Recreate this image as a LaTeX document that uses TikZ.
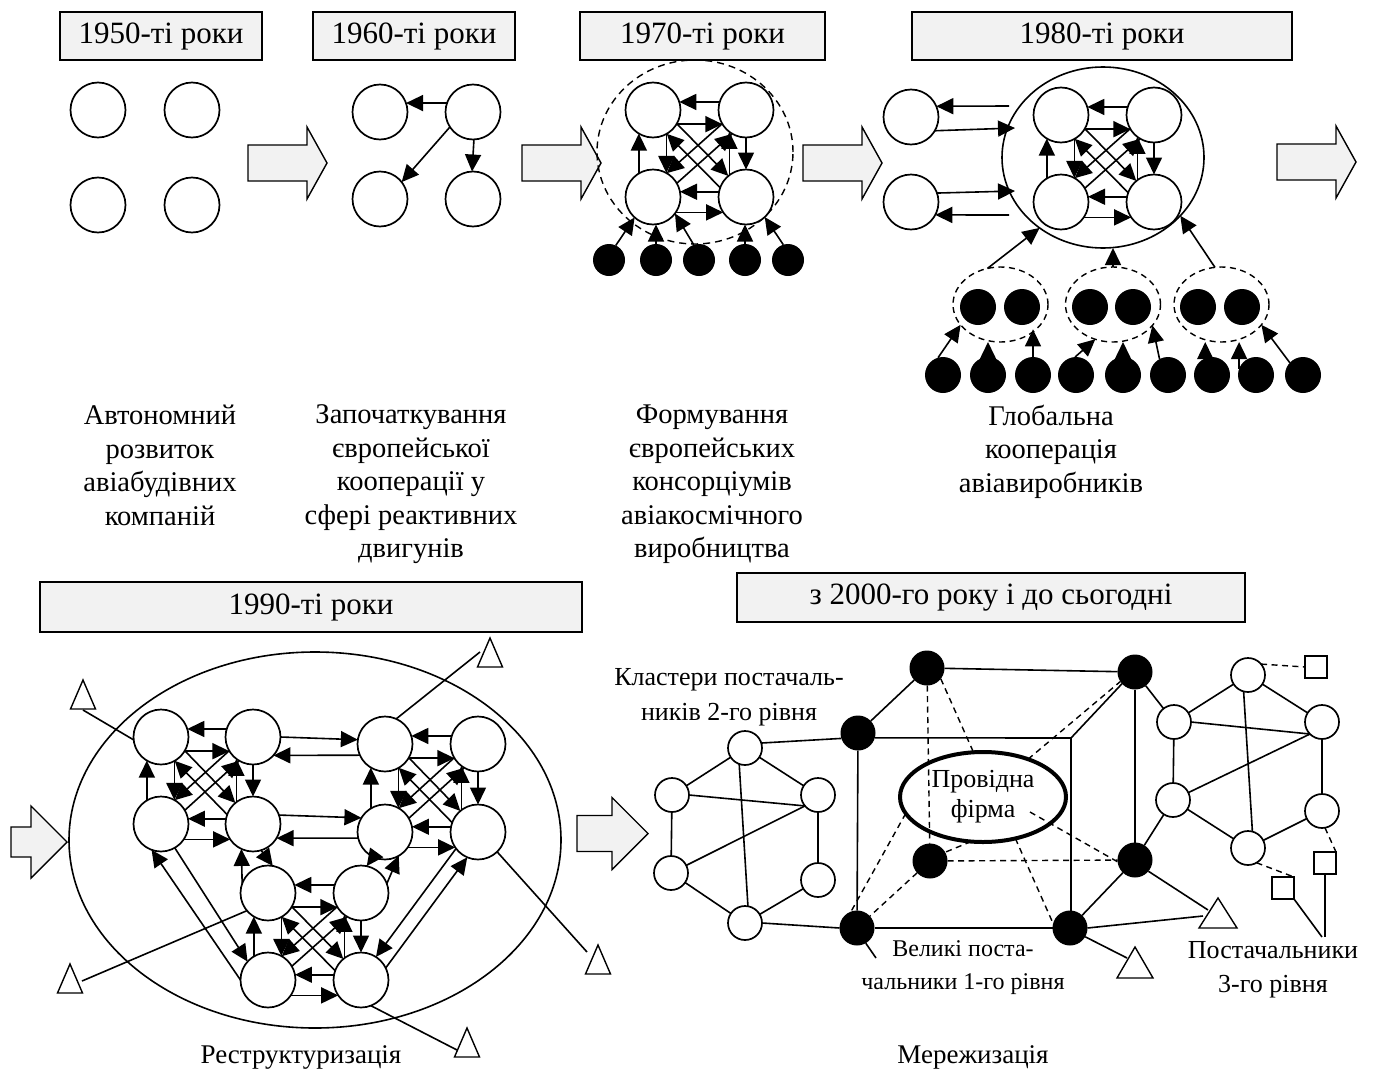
\documentclass[tikz,border=0pt]{standalone}
\usepackage{fontspec}
\setmainfont{Liberation Serif}
\usetikzlibrary{arrows.meta,calc,shapes.geometric}
\definecolor{boxgray}{HTML}{F2F2F2}
% full two-way mesh between four round nodes: top-left, top-right, bottom-left, bottom-right
\newcommand\meshfour[4]{%
  \draw[arr] (#2.163) -- (#1.17);
  \draw[arr] (#1.-31) -- (#2.211);
  \draw[arr] (#1.-61) -- (#3.61);
  \draw[arr] (#3.121) -- (#1.239);
  \draw[arr] (#2.-90) -- (#4.90);
  \draw[arr] (#4.127) -- (#2.233);
  \draw[arr] (#4.169) -- (#3.11);
  \draw[arr] (#3.-34) -- (#4.214);
  \draw[arr] (#2.210) -- (#3.60);
  \draw[arr] (#3.30) -- (#2.240);
  \draw[arr] (#1.-30) -- (#4.130);
  \draw[arr] (#4.160) -- (#1.-60);
}
\begin{document}
\begin{tikzpicture}[x=1pt,y=-1pt,
  every node/.style={inner sep=0pt,outer sep=0pt},
  wn/.style={circle,draw,line width=1.7pt,fill=white,minimum size=55pt},
  swn/.style={circle,draw,line width=1.7pt,fill=white,minimum size=34pt},
  bn/.style={circle,fill=black,minimum size=#1},
  arr/.style={line width=1.6pt,-{Triangle[length=17pt,width=16pt]}},
  ln/.style={line width=1.6pt},
  dsh/.style={line width=1.4pt,dash pattern=on 6pt off 4.5pt},
  hdr/.style={draw,line width=1.4pt,fill=boxgray,font=\fontsize{31}{35}\selectfont},
  blk/.style={draw,line width=1.4pt,fill=boxgray,line join=miter},
  desc/.style={align=center,anchor=north,font=\fontsize{28.5}{33.5}\selectfont},
  sq/.style={draw,line width=1.4pt,minimum size=22pt},
  tri/.style={draw,line width=1.4pt,fill=white,line join=miter}
]
\useasboundingbox (0,0) rectangle (1379,1079);

% ---------- headers ----------
\node[hdr,minimum width=202pt,minimum height=48pt] (h50) at (161,36) {1950-ті роки};
\node[hdr,minimum width=202pt,minimum height=48pt] (h60) at (414,36) {1960-ті роки};
\node[hdr,minimum width=245pt,minimum height=48pt] (h70) at (702.5,36) {1970-ті роки};
\node[hdr,minimum width=380pt,minimum height=48pt] (h80) at (1102,36) {1980-ті роки};
\node[hdr,minimum width=542pt,minimum height=50pt] (h90) at (311,607) {1990-ті роки};
\node[hdr,minimum width=508pt,minimum height=49pt] (h00) at (991,597.5) {з 2000-го року і до сьогодні};

% ---------- block arrows ----------
\draw[blk] (248,145) -- ++(59,0) -- ++(0,-18) -- ++(20,36) -- ++(-20,36) -- ++(0,-18) -- ++(-59,0) -- cycle;
\draw[blk] (522,145) -- ++(59,0) -- ++(0,-18) -- ++(20,36) -- ++(-20,36) -- ++(0,-18) -- ++(-59,0) -- cycle;
\draw[blk] (803,145) -- ++(59,0) -- ++(0,-18) -- ++(20,36) -- ++(-20,36) -- ++(0,-18) -- ++(-59,0) -- cycle;
\draw[blk] (1277,144) -- ++(59,0) -- ++(0,-18) -- ++(20,36) -- ++(-20,36) -- ++(0,-18) -- ++(-59,0) -- cycle;
\draw[blk] (11,827) -- ++(20,0) -- ++(0,-21) -- ++(36,36) -- ++(-36,36) -- ++(0,-21) -- ++(-20,0) -- cycle;
\draw[blk] (577,815.5) -- ++(35,0) -- ++(0,-18) -- ++(36,36) -- ++(-36,36) -- ++(0,-18) -- ++(-35,0) -- cycle;

% ---------- 1950s ----------
\node[wn] (w1) at (98,110) {};
\node[wn] (w2) at (192,110) {};
\node[wn] (w3) at (98,205) {};
\node[wn] (w4) at (192,205) {};

% ---------- 1960s ----------
\node[wn] (s1) at (380,112) {};
\node[wn] (s2) at (473,112) {};
\node[wn] (s3) at (380,199) {};
\node[wn] (s4) at (473,199) {};
\draw[arr] (s2.161) -- (s1.19);
\draw[arr] (s2.213) -- (s3.38);
\draw[arr] (s2.-88) -- (s4.92);

% ---------- 1970s ----------
\node[draw,ellipse,line width=1.4pt,dash pattern=on 7pt off 5pt,minimum width=196pt,minimum height=184pt] (ring70) at (695,152) {};
\node[wn] (q1) at (653,110) {};
\node[wn] (q2) at (746,110) {};
\node[wn] (q3) at (653,197) {};
\node[wn] (q4) at (746,197) {};
\meshfour{q1}{q2}{q3}{q4}
\foreach \i/\x in {1/609,2/656,3/699,4/745,5/788}
  \node[bn=32pt] (c\i) at (\x,260) {};
\draw[arr] (c1.65) -- (q3.228);
\draw[arr] (c2.north) -- (c2.north |- q3.south);
\draw[arr] (c3.109) -- (q3.-37);
\draw[arr] (c4.north) -- (c4.north |- q4.south);
\draw[arr] (c5.107) -- (q4.-47);

% ---------- 1980s ----------
\node[draw,ellipse,line width=1.6pt,minimum width=202pt,minimum height=181pt] (big80) at (1103,157.5) {};
\node[wn] (o1) at (911,117) {};
\node[wn] (o2) at (911,202) {};
\node[wn] (p1) at (1061,115) {};
\node[wn] (p2) at (1154,115) {};
\node[wn] (p3) at (1061,202) {};
\node[wn] (p4) at (1154,202) {};
\meshfour{p1}{p2}{p3}{p4}
\draw[arr] ($(big80.west)+(7,-51.5)$) -- (o1.23);
\draw[arr] (o1.-30) -- ($(big80.west)+(13,-29.5)$);
\draw[arr] (o2.19) -- ($(big80.west)+(13,33.5)$);
\draw[arr] ($(big80.west)+(7,57.5)$) -- (o2.-28);

\node[draw,ellipse,line width=1.4pt,dash pattern=on 6pt off 4.5pt,minimum width=95pt,minimum height=75pt] (e1) at (1000.5,304.5) {};
\node[draw,ellipse,line width=1.4pt,dash pattern=on 6pt off 4.5pt,minimum width=95pt,minimum height=75pt] (e2) at (1113,304.5) {};
\node[draw,ellipse,line width=1.4pt,dash pattern=on 6pt off 4.5pt,minimum width=95pt,minimum height=75pt] (e3) at (1221.5,304.5) {};
\foreach \i/\x in {1/978,2/1022,3/1090,4/1133,5/1198,6/1242}
  \node[bn=36pt] (m\i) at (\x,307) {};
\foreach \i/\x in {1/943,2/988,3/1033,4/1076,5/1123,6/1168,7/1212,8/1256,9/1303}
  \node[bn=36pt] (b\i) at (\x,375) {};
\draw[arr] (e1.110) -- (big80.228);
\draw[arr] (e2.north) -- (e2.north |- big80.south);
\draw[arr] (e3.100) -- (big80.-37);
\draw[arr] (b1.106) -- (e1.207);
\draw[arr] (b2.north) -- (b2.north |- e1.south);
\draw[arr] (b3.north) -- (b3.north |- e1.-35);
\draw[arr] (b4.93) -- (e2.243);
\draw[arr] (b5.north) -- (b5.north |- e2.south);
\draw[arr] (b6.118) -- (e2.-28);
\draw[arr] (b7.112) -- (b7.112 |- e3.south);
\draw[arr] (b8.160) -- (b8.160 |- e3.south);
\draw[arr] (b9.137) -- (e3.-27);

% ---------- captions, top row ----------
\node[desc] (d50) at (160,405) {Автономний\\розвиток\\авіабудівних\\компаній};
\node[desc] (d60) at (411,405) {Започаткування\\європейської\\кооперації у\\сфері реактивних\\двигунів};
\node[desc] (d70) at (712,405) {Формування\\європейських\\консорціумів\\авіакосмічного\\виробництва};
\node[desc] (d80) at (1051,405) {Глобальна\\кооперація\\авіавиробників};

% ---------- 1990s ----------
\node[draw,ellipse,line width=1.6pt,minimum width=492pt,minimum height=376pt] (ring90) at (315,840) {};
\node[wn] (n1) at (161,737) {};
\node[wn] (n2) at (253,737) {};
\node[wn] (n3) at (161,824) {};
\node[wn] (n4) at (253,824) {};
\node[wn] (n5) at (385,744) {};
\node[wn] (n6) at (478,744) {};
\node[wn] (n7) at (385,832) {};
\node[wn] (n8) at (478,832) {};
\node[wn] (n9) at (268,893) {};
\node[wn] (n10) at (361,893) {};
\node[wn] (n11) at (268,980) {};
\node[wn] (n12) at (361,980) {};
\meshfour{n1}{n2}{n3}{n4}
\meshfour{n5}{n6}{n7}{n8}
\meshfour{n9}{n10}{n11}{n12}
\draw[arr] (n2.0) -- (n5.171);
\draw[arr] (n5.204) -- (n2.-42);
\draw[arr] (n4.19) -- (n7.149);
\draw[arr] (n7.193) -- (n4.-31);
\draw[arr] (n4.-73) -- (n9.80);
\draw[arr] (n9.160) -- (n4.-115);
\draw[arr] (n7.-115) -- (n10.78);
\draw[arr] (n10.20) -- (n7.-60);
\draw[arr] (n3.-60) -- (n11.138);
\draw[arr] (n11.180) -- (n3.-110);
\draw[arr] (n8.217) -- (n12.57);
\draw[arr] (n12.26) -- (n8.247);

% outside partners (triangles)
\draw[tri] (83,680) -- ++(12.5,29) -- ++(-25,0) -- cycle;
\draw[tri] (490,638) -- ++(12.5,29) -- ++(-25,0) -- cycle;
\draw[tri] (467,1028) -- ++(12.5,29) -- ++(-25,0) -- cycle;
\draw[tri] (598,945) -- ++(12.5,29) -- ++(-25,0) -- cycle;
\draw[tri] (70,964) -- ++(12.5,29) -- ++(-25,0) -- cycle;
\coordinate (T1a) at (83,710);
\coordinate (T2a) at (480,652);
\coordinate (T3a) at (457,1050);
\coordinate (T4a) at (587,952);
\coordinate (T5a) at (82,981);
\draw[ln] (T1a) -- (n1.186);
\draw[ln] (n5.66) -- (T2a);
\draw[ln] (n12.-69) -- (T3a);
\draw[ln] (n8.-46) -- (T4a);
\draw[ln] (T5a) -- (n9.220);

\node[anchor=north,font=\fontsize{27}{33}\selectfont] (cap90) at (301,1046) {Реструктуризація};

% ---------- 2000s ----------
\node[bn=35pt] (A) at (927,668) {};
\node[bn=35pt] (B) at (858,733) {};
\node[bn=35pt] (C) at (1135,672) {};
\node[bn=35pt] (D) at (930,861) {};
\node[bn=35pt] (E) at (857,928) {};
\node[bn=35pt] (F) at (1135,860) {};
\node[bn=35pt] (G) at (1070,928) {};
\coordinate (K) at (1071,738);
\node[draw,ellipse,line width=4pt,minimum width=166pt,minimum height=90pt,align=center,
      font=\fontsize{26}{30}\selectfont] (P) at (983,797) {Провідна\\фірма};
\coordinate (pF) at (1030,812);

\draw[ln] (A) -- (C);
\draw[ln] (A) -- (B);
\draw[ln] (B.-16) -- (K);
\draw[ln] (K) -- (C.222);
\draw[ln] (K) -- (K |- G.north);
\draw[ln] (B) -- (E);
\draw[ln] (C) -- (F);
\draw[ln] (F) -- (G);
\draw[ln] (E) -- (G);
\draw[dsh] (A) -- (D);
\draw[dsh] (D) -- (F);
\draw[dsh] (D) -- (E);
\draw[dsh] (A.-38) -- (P.102);
\draw[dsh] (P.40) -- (C.213);
\draw[dsh] (pF) -- (F.186);
\draw[dsh] (P.-52) -- (G.243);
\draw[dsh] (P.-105) -- (D.30);
\draw[dsh] (P.192) -- (E.110);

% second-tier cluster, left
\node[swn] (h1) at (745,748) {};
\node[swn] (h2) at (672,795) {};
\node[swn] (h3) at (818,795) {};
\node[swn] (h4) at (671,873) {};
\node[swn] (h5) at (818,880) {};
\node[swn] (h6) at (745,923) {};
\draw[ln] (h1) -- (h2);
\draw[ln] (h1) -- (h3);
\draw[ln] (h2) -- (h4);
\draw[ln] (h4) -- (h6);
\draw[ln] (h1.-110) -- (h6.80);
\draw[ln] (h2.east) -- (h3.220);
\draw[ln] (h4) -- (h3.220);
\draw[ln] (h3.south) -- (h5.north);
\draw[ln] (h5) -- (h6);
\draw[ln] (h1.17) -- (B.198);
\draw[ln] (h6.east) -- (E.west);

% second-tier cluster, right
\node[swn] (k1) at (1248,675) {};
\node[swn] (k2) at (1174,722) {};
\node[swn] (k3) at (1322,722) {};
\node[swn] (k4) at (1173,800) {};
\node[swn] (k5) at (1322,811) {};
\node[swn] (k6) at (1248,848) {};
\draw[ln] (k1) -- (k2);
\draw[ln] (k1) -- (k3);
\draw[ln] (k2.east) -- (k3.225);
\draw[ln] (k2) -- (k4);
\draw[ln] (k4) -- (k3.225);
\draw[ln] (k1.-105) -- (k6.75);
\draw[ln] (k4) -- (k6);
\draw[ln] (k6) -- (k5);
\draw[ln] (k3.south) -- (k5.north);
\draw[ln] (C) -- (k2);
\draw[ln] (F) -- (k4);

% third-tier suppliers
\node[sq] (sq1) at (1316,667) {};
\node[sq] (sq2) at (1325,863) {};
\node[sq] (sq3) at (1283,888) {};
\draw[dsh] (k1.40) -- (sq1.west);
\draw[dsh] (k5.-80) -- (sq2.north east);
\draw[dsh] (k6.-60) -- (sq3.north east);
\coordinate (lab3top) at (1322,937);
\draw[ln] (sq3.south east) -- (lab3top);
\draw[ln] (sq2.south) -- (sq2.south |- lab3top);

% outside partners of first tier
\draw[tri] (1218,898) -- (1237,928) -- (1199,928) -- cycle;
\draw[tri] (1135,947) -- (1153,978) -- (1117,978) -- cycle;
\coordinate (t1l) at (1208,910);
\coordinate (t1b) at (1203,916);
\coordinate (t2l) at (1127,958);
\coordinate (epl) at (876,958);
\draw[ln] (F.-40) -- (t1l);
\draw[ln] (G.east) -- (t1b);
\draw[ln] (G.-30) -- (t2l);
\draw[ln] (E.-60) -- (epl);

% labels
\node[anchor=north,align=center,font=\fontsize{26}{35}\selectfont] (lab2) at (729,668) {Кластери постачаль-\\ників 2-го рівня};
\node[anchor=north,align=center,font=\fontsize{24}{33}\selectfont] (lab1) at (963,941) {Великі поста-\\чальники 1-го рівня};
\node[anchor=north,align=center,font=\fontsize{26}{34}\selectfont] (lab3) at (1273,941) {Постачальники\\3-го рівня};
\node[anchor=north,font=\fontsize{27}{33}\selectfont] (cap00) at (973,1046) {Мережизація};
\end{tikzpicture}
\end{document}
